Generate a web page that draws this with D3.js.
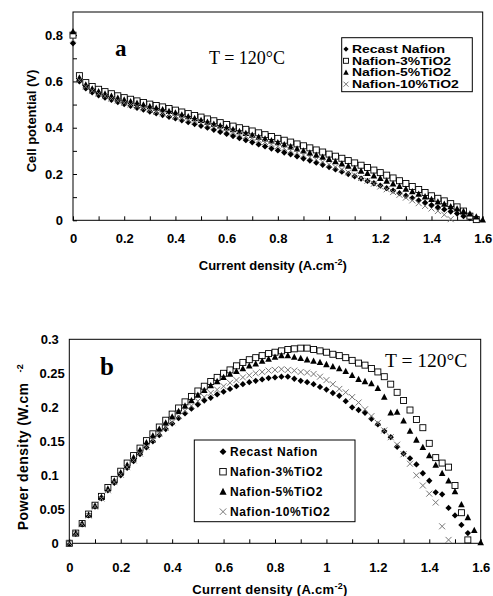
<!DOCTYPE html>
<html>
<head>
<meta charset="utf-8">
<script src="https://cdn.jsdelivr.net/npm/d3@7"></script>
<style>
body { margin: 0; background: #fff; }
svg { display: block; }
</style>
</head>
<body>
<svg width="493" height="596"></svg>
<script>
// current density (A/cm2), shared by every series
var currents = [
	0, 0.025, 0.05, 0.075, 0.1, 0.125, 0.15, 0.175,
	0.2, 0.225, 0.25, 0.275, 0.3, 0.325, 0.35, 0.375,
	0.4, 0.425, 0.45, 0.475, 0.5, 0.525, 0.55, 0.575,
	0.6, 0.625, 0.65, 0.675, 0.7, 0.725, 0.75, 0.775,
	0.8, 0.825, 0.85, 0.875, 0.9, 0.925, 0.95, 0.975,
	1.0, 1.025, 1.05, 1.075, 1.1, 1.125, 1.15, 1.175,
	1.2, 1.225, 1.25, 1.275, 1.3, 1.325, 1.35, 1.375,
	1.4, 1.425, 1.45, 1.475, 1.5, 1.525, 1.55, 1.575,
	1.6];

var seriesNames = ['Recast Nafion', 'Nafion-3%TiO2', 'Nafion-5%TiO2', 'Nafion-10%TiO2'];

// (a) cell potential, V
var potRecast = [
	0.765, 0.600, 0.570, 0.553, 0.540, 0.530, 0.520, 0.511,
	0.502, 0.494, 0.486, 0.478, 0.470, 0.462, 0.455, 0.447,
	0.440, 0.432, 0.424, 0.416, 0.408, 0.400, 0.391, 0.382,
	0.373, 0.364, 0.355, 0.346, 0.337, 0.328, 0.319, 0.310,
	0.302, 0.293, 0.285, 0.276, 0.267, 0.258, 0.249, 0.240,
	0.230, 0.220, 0.210, 0.200, 0.190, 0.180, 0.170, 0.160,
	0.150, 0.139, 0.128, 0.117, 0.106, 0.096, 0.086, 0.076,
	0.066, 0.056, 0.047, 0.038, 0.029, 0.018, 0.009, null,
	null];
var pot3 = [
	0.800, 0.625, 0.595, 0.578, 0.566, 0.556, 0.547, 0.538,
	0.530, 0.523, 0.516, 0.509, 0.502, 0.496, 0.490, 0.483,
	0.476, 0.468, 0.461, 0.453, 0.446, 0.438, 0.430, 0.422,
	0.414, 0.407, 0.400, 0.393, 0.386, 0.378, 0.370, 0.362,
	0.354, 0.346, 0.338, 0.330, 0.322, 0.313, 0.304, 0.295,
	0.286, 0.277, 0.268, 0.258, 0.248, 0.238, 0.228, 0.217,
	0.206, 0.195, 0.183, 0.171, 0.159, 0.146, 0.133, 0.120,
	0.106, 0.095, 0.084, 0.072, 0.058, 0.040, 0.018, 0.003,
	null];
var pot5 = [
	0.815, 0.615, 0.585, 0.568, 0.556, 0.546, 0.537, 0.528,
	0.520, 0.513, 0.506, 0.499, 0.492, 0.485, 0.478, 0.471,
	0.464, 0.456, 0.448, 0.440, 0.432, 0.424, 0.416, 0.408,
	0.400, 0.392, 0.384, 0.376, 0.368, 0.360, 0.352, 0.344,
	0.336, 0.327, 0.318, 0.309, 0.300, 0.291, 0.282, 0.273,
	0.264, 0.254, 0.244, 0.234, 0.224, 0.213, 0.203, 0.192,
	0.181, 0.170, 0.158, 0.147, 0.135, 0.124, 0.113, 0.102,
	0.091, 0.080, 0.070, 0.059, 0.050, 0.039, 0.028, 0.015,
	0.002];
var pot10 = [
	0.780, 0.605, 0.578, 0.560, 0.547, 0.536, 0.526, 0.517,
	0.508, 0.500, 0.492, 0.484, 0.477, 0.469, 0.462, 0.455,
	0.448, 0.441, 0.434, 0.427, 0.420, 0.412, 0.404, 0.396,
	0.388, 0.380, 0.372, 0.364, 0.356, 0.347, 0.338, 0.329,
	0.320, 0.311, 0.302, 0.292, 0.282, 0.272, 0.262, 0.252,
	0.241, 0.230, 0.219, 0.207, 0.195, 0.183, 0.171, 0.158,
	0.146, 0.134, 0.122, 0.110, 0.098, 0.086, 0.074, 0.062,
	0.051, 0.040, 0.024, 0.005, null, null, null, null,
	null];

// (b) power density, W/cm2
var powRecast = [
	0, 0.014, 0.028, 0.041, 0.054, 0.066, 0.078, 0.089,
	0.100, 0.111, 0.121, 0.131, 0.141, 0.150, 0.159, 0.168,
	0.176, 0.184, 0.191, 0.198, 0.204, 0.210, 0.214, 0.219,
	0.223, 0.227, 0.231, 0.234, 0.237, 0.239, 0.241, 0.243,
	0.244, 0.245, 0.245, 0.242, 0.239, 0.237, 0.234, 0.230,
	0.226, 0.221, 0.217, 0.209, 0.200, 0.196, 0.192, 0.183,
	0.175, 0.165, 0.156, 0.142, 0.132, 0.125, 0.116, 0.103,
	0.092, 0.075, 0.072, 0.052, 0.041, 0.027, 0.015, null,
	null];
var pow3 = [
	0, 0.015, 0.029, 0.043, 0.056, 0.069, 0.082, 0.094,
	0.106, 0.118, 0.129, 0.140, 0.151, 0.161, 0.171, 0.181,
	0.190, 0.199, 0.208, 0.216, 0.224, 0.231, 0.238, 0.244,
	0.250, 0.255, 0.261, 0.266, 0.270, 0.273, 0.276, 0.279,
	0.281, 0.283, 0.285, 0.286, 0.287, 0.287, 0.285, 0.283,
	0.281, 0.278, 0.276, 0.273, 0.269, 0.265, 0.262, 0.257,
	0.252, 0.245, 0.234, 0.222, 0.210, 0.196, 0.182, 0.170,
	0.147, 0.126, 0.118, 0.112, 0.085, 0.045, 0.005, null,
	null];
var pow5 = [
	0, 0.015, 0.029, 0.042, 0.055, 0.068, 0.080, 0.092,
	0.104, 0.115, 0.126, 0.137, 0.148, 0.158, 0.168, 0.177,
	0.186, 0.194, 0.202, 0.210, 0.218, 0.225, 0.232, 0.238,
	0.244, 0.249, 0.253, 0.257, 0.261, 0.264, 0.268, 0.271,
	0.274, 0.276, 0.276, 0.274, 0.272, 0.270, 0.268, 0.266,
	0.263, 0.260, 0.257, 0.253, 0.247, 0.241, 0.238, 0.235,
	0.228, 0.215, 0.192, 0.193, 0.180, 0.165, 0.152, 0.141,
	0.129, 0.115, 0.103, 0.092, 0.076, 0.057, 0.038, 0.019,
	0.001];
var pow10 = [
	0, 0.014, 0.028, 0.041, 0.054, 0.066, 0.078, 0.090,
	0.101, 0.112, 0.122, 0.132, 0.142, 0.152, 0.161, 0.170,
	0.178, 0.187, 0.195, 0.202, 0.209, 0.215, 0.221, 0.226,
	0.231, 0.236, 0.240, 0.244, 0.247, 0.250, 0.252, 0.254,
	0.255, 0.256, 0.255, 0.254, 0.252, 0.251, 0.249, 0.245,
	0.240, 0.234, 0.227, 0.222, 0.215, 0.207, 0.197, 0.187,
	0.177, 0.166, 0.156, 0.145, 0.131, 0.117, 0.100, 0.085,
	0.073, 0.060, 0.025, 0.005, null, null, null, null,
	null];

// ticks
var xTicks = [0, 0.1, 0.2, 0.3, 0.4, 0.5, 0.6, 0.7, 0.8, 0.9, 1, 1.1, 1.2, 1.3, 1.4, 1.5, 1.6];
var xLabels = ['0', '', '0.2', '', '0.4', '', '0.6', '', '0.8', '', '1', '', '1.2', '', '1.4', '', '1.6'];
var yTicksA = [0, 0.1, 0.2, 0.3, 0.4, 0.5, 0.6, 0.7, 0.8];
var yLabelsA = ['0', '', '0.2', '', '0.4', '', '0.6', '', '0.8'];
var yTicksB = [0, 0.05, 0.1, 0.15, 0.2, 0.25, 0.3];
var yLabelsB = ['0', '0.05', '0.1', '0.15', '0.2', '0.25', '0.3'];

var svg = d3.select('svg');
var SANS = "'Liberation Sans', Arial, sans-serif";
var SERIF = "'Liberation Serif', 'Times New Roman', serif";

function drawMarker(g, k, s) {
	if(k == 0) {
		g.append('path').attr('d', d3.symbol().type(d3.symbolSquare).size(s * s * 0.55)())
			.attr('transform', 'rotate(45)').attr('fill', '#000');
	} else if(k == 1) {
		g.append('rect').attr('x', -s / 2).attr('y', -s / 2).attr('width', s).attr('height', s)
			.attr('fill', '#fff').attr('stroke', '#000').attr('stroke-width', 0.9);
	} else if(k == 2) {
		g.append('path').attr('d', 'M0,' + (-s * 0.6) + 'L' + (s * 0.55) + ',' + (s * 0.45) + 'L' + (-s * 0.55) + ',' + (s * 0.45) + 'Z')
			.attr('fill', '#000');
	} else {
		var h = s / 2;
		g.append('path').attr('d', 'M' + -h + ',' + -h + 'L' + h + ',' + h + 'M' + -h + ',' + h + 'L' + h + ',' + -h)
			.attr('stroke', '#777').attr('stroke-width', 1).attr('fill', 'none');
	}
}

function drawChart(c) {
	var x = d3.scaleLinear().domain([0, 1.6]).range([c.left, c.right]);
	var y = d3.scaleLinear().domain([0, c.ymax]).range([c.bottom, c.top]);

	// frame
	svg.append('rect')
		.attr('x', c.left).attr('y', c.top)
		.attr('width', c.right - c.left).attr('height', c.bottom - c.top)
		.attr('fill', 'none').attr('stroke', '#000').attr('stroke-width', 1);

	// x axis
	var gx = svg.append('g')
		.attr('transform', 'translate(0,' + c.bottom + ')')
		.call(d3.axisBottom(x).tickValues(xTicks).tickSizeInner(-4).tickSizeOuter(0)
			.tickPadding(c.xPad).tickFormat(function(d, i) { return xLabels[i]; }));
	gx.select('.domain').remove();
	gx.attr('font-family', SANS).attr('font-size', 13).attr('font-weight', 'bold');

	// y axis
	var gy = svg.append('g')
		.attr('transform', 'translate(' + c.left + ',0)')
		.call(d3.axisLeft(y).tickValues(c.yTicks).tickSizeInner(c.yTickLen).tickSizeOuter(0)
			.tickPadding(c.yPad).tickFormat(function(d, i) { return c.yLabels[i]; }));
	gy.select('.domain').remove();
	gy.attr('font-family', SANS).attr('font-size', 13).attr('font-weight', 'bold');
	if(c.alignDecimals)
		gy.selectAll('text').attr('dx', function(d, i) { return c.yLabels[i].length < 4 ? -6 : 0; });

	// series
	var order = [0, 1, 2, 3];
	order.forEach(function(k) {
		var vals = c.series[k];
		var pts = currents.map(function(cd, i) { return {x: cd, y: vals[i]}; })
			.filter(function(d) { return d.y !== null; });
		svg.append('g').selectAll('g')
			.data(pts)
			.enter()
			.append('g')
			.attr('transform', function(d) { return 'translate(' + x(d.x) + ',' + y(d.y) + ')'; })
			.each(function() { drawMarker(d3.select(this), k, 6); });
	});

	// legend
	var lg = svg.append('g');
	lg.append('rect')
		.attr('x', c.legend.x).attr('y', c.legend.y)
		.attr('width', c.legend.w).attr('height', c.legend.h)
		.attr('fill', '#fff').attr('stroke', '#000').attr('stroke-width', 1);
	seriesNames.forEach(function(name, k) {
		var cy = c.legend.y + c.legend.first + k * c.legend.step;
		var m = lg.append('g').attr('transform', 'translate(' + c.legend.mx + ',' + cy + ')');
		drawMarker(m, k, c.legend.ms);
		lg.append('text')
			.attr('transform', 'translate(' + c.legend.tx + ',' + (cy + c.legend.fs * 0.36) + ') scale(' + c.legend.sx + ',1)')
			.attr('font-family', SANS).attr('font-weight', 'bold')
			.attr('font-size', c.legend.fs).attr('letter-spacing', c.legend.ls)
			.text(name);
	});

	// panel letter and temperature
	svg.append('text').attr('x', c.letter.x).attr('y', c.letter.y)
		.attr('font-family', SERIF).attr('font-weight', 'bold').attr('font-size', c.letter.fs)
		.text(c.letter.t);
	svg.append('text').attr('x', c.temp.x).attr('y', c.temp.y)
		.attr('font-family', SERIF).attr('font-size', c.temp.fs)
		.text('T = 120\u00B0C');

	// axis titles
	var xt = svg.append('text')
		.attr('x', (c.left + c.right) / 2 - 5).attr('y', c.xTitleY)
		.attr('text-anchor', 'middle')
		.attr('font-family', SANS).attr('font-weight', 'bold').attr('font-size', 13)
		.attr('letter-spacing', c.xTitleLs);
	xt.append('tspan').text('Current density (A.cm');
	xt.append('tspan').attr('dy', -5).attr('font-size', 9).text('-2');
	xt.append('tspan').attr('dy', 5).text(')');

	var yt = svg.append('text')
		.attr('transform', 'translate(' + c.yTitle.x + ',' + c.yTitle.y + ') rotate(-90)')
		.attr('text-anchor', 'middle')
		.attr('font-family', SANS).attr('font-weight', 'bold').attr('font-size', c.yTitle.fs)
		.attr('letter-spacing', c.yTitle.ls);
	yt.append('tspan').text(c.yTitle.t);
	if(c.yTitle.sup) {
		yt.append('tspan').attr('dx', 10).attr('dy', -5).attr('font-size', 9).text(c.yTitle.sup);
	}
}

drawChart({
	left: 73, right: 482.7, top: 12, bottom: 220.3, ymax: 0.9,
	yTicks: yTicksA, yLabels: yLabelsA, yTickLen: -4, yPad: 10, xPad: 13,
	alignDecimals: false,
	series: [potRecast, pot3, pot5, pot10],
	legend: {x: 341.7, y: 37.7, w: 130.6, h: 54, first: 11.4, step: 11.7, mx: 346, tx: 352, ms: 5, fs: 11, sx: 1.27, ls: 0},
	letter: {x: 115, y: 56, fs: 23, t: 'a'},
	temp: {x: 209, y: 64, fs: 18},
	xTitleY: 270, xTitleLs: 0,
	yTitle: {x: 36, y: 121, fs: 13, ls: 0, t: 'Cell potential (V)'}
});

drawChart({
	left: 69.3, right: 480.7, top: 339.3, bottom: 543.3, ymax: 0.3,
	yTicks: yTicksB, yLabels: yLabelsB, yTickLen: 0, yPad: 4.5, xPad: 19,
	alignDecimals: true,
	series: [powRecast, pow3, pow5, pow10],
	legend: {x: 194.3, y: 440, w: 160.7, h: 81.7, first: 11.7, step: 20, mx: 223, tx: 230, ms: 6.5, fs: 12, sx: 1, ls: 0.6},
	letter: {x: 100, y: 375, fs: 25, t: 'b'},
	temp: {x: 385, y: 367, fs: 19.5},
	xTitleY: 594, xTitleLs: 0.3,
	yTitle: {x: 28, y: 447, fs: 14, ls: 0.4, t: 'Power density (W.cm', sup: '-2'}
});
</script>
</body>
</html>
